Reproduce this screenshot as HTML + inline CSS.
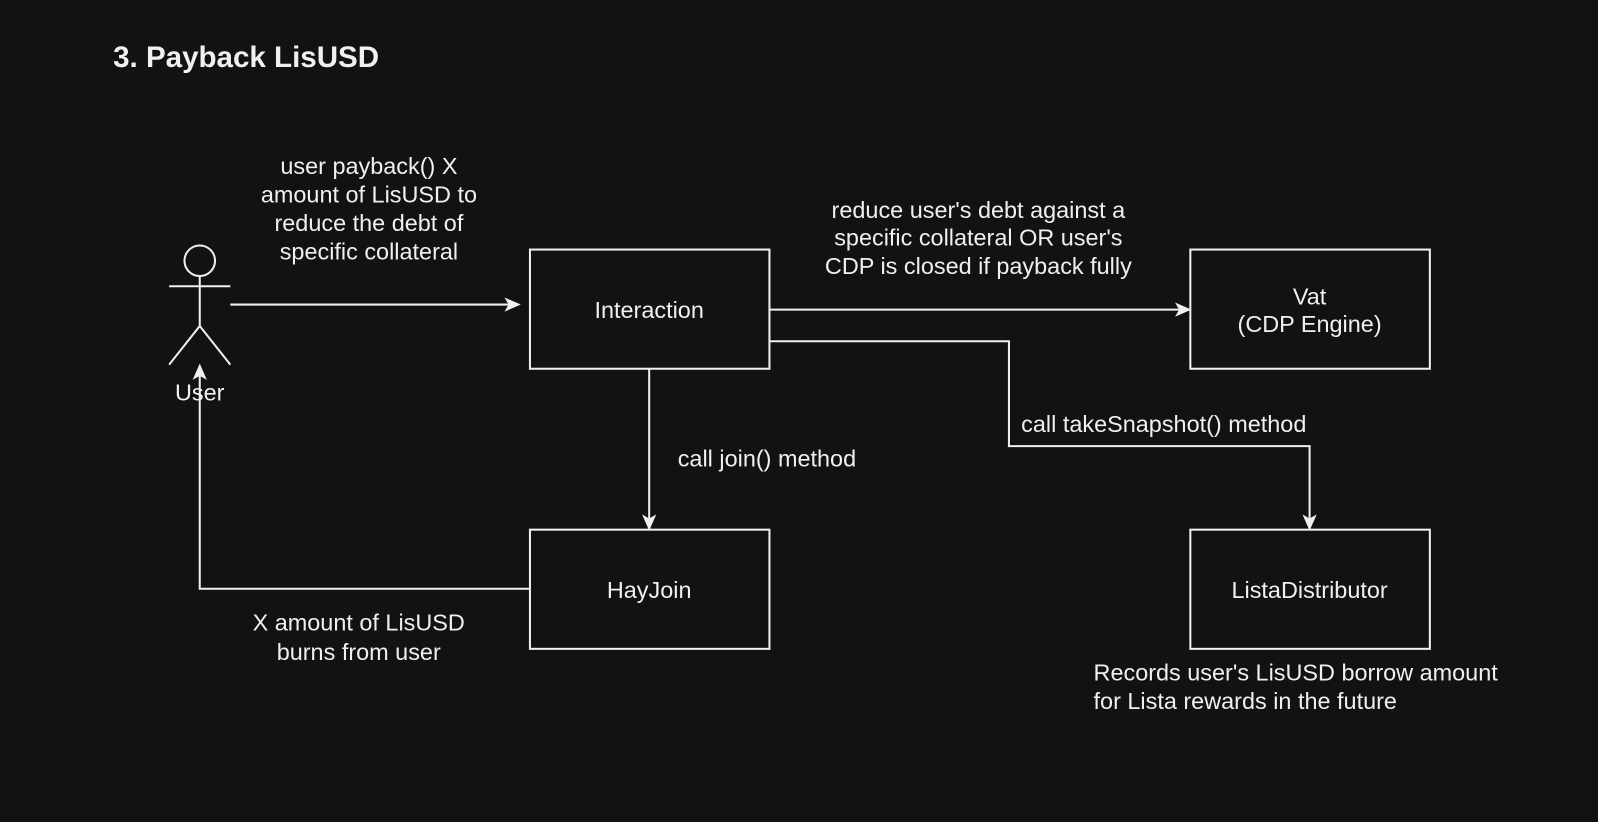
<!DOCTYPE html>
<html><head><meta charset="utf-8"><style>
html,body{margin:0;padding:0;background:#121212;width:1598px;height:822px;overflow:hidden}
svg{display:block}
text{font-family:"Liberation Sans",Arial,sans-serif;fill:#f0f0f0;font-size:23px}
</style></head><body>
<svg width="1598" height="822" viewBox="0 0 1568 807" preserveAspectRatio="none">
<rect width="1568" height="807" fill="#121212"/>
<defs><marker id="a" markerWidth="16" markerHeight="16" refX="14" refY="8" orient="auto" markerUnits="userSpaceOnUse"><path d="M0,1 L16,8 L0,15 L4,8 Z" fill="#f0f0f0"/></marker></defs>
<text x="111" y="66" style="font-size:29px;font-weight:bold">3. Payback LisUSD</text>
<g stroke="#f0f0f0" stroke-width="2" fill="none">
<circle cx="196" cy="256" r="15"/>
<line x1="196" y1="271" x2="196" y2="320"/>
<line x1="166" y1="281" x2="226" y2="281"/>
<line x1="196" y1="320" x2="166" y2="358"/>
<line x1="196" y1="320" x2="226" y2="358"/>
<rect x="520" y="245" width="235" height="117"/>
<rect x="1168" y="245" width="235" height="117"/>
<rect x="520" y="520" width="235" height="117"/>
<rect x="1168" y="520" width="235" height="117"/>
<line x1="226" y1="299" x2="509" y2="299" marker-end="url(#a)"/>
<line x1="755" y1="304" x2="1167" y2="304" marker-end="url(#a)"/>
<polyline points="755,335 990,335 990,438 1285,438 1285,519" marker-end="url(#a)"/>
<line x1="637" y1="362" x2="637" y2="519" marker-end="url(#a)"/>
<polyline points="520,578 196,578 196,359" marker-end="url(#a)"/>
</g>
<text x="196" y="393" text-anchor="middle">User</text>
<g text-anchor="middle">
<text x="362" y="171">user payback() X</text>
<text x="362" y="199">amount of LisUSD to</text>
<text x="362" y="227">reduce the debt of</text>
<text x="362" y="255">specific collateral</text>
<text x="960" y="214">reduce user's debt against a</text>
<text x="960" y="241">specific collateral OR user's</text>
<text x="960" y="269">CDP is closed if payback fully</text>
<text x="637" y="312">Interaction</text>
<text x="1285" y="299">Vat</text>
<text x="1285" y="326">(CDP Engine)</text>
<text x="637" y="587">HayJoin</text>
<text x="1285" y="587">ListaDistributor</text>
<text x="352" y="619">X amount of LisUSD</text>
<text x="352" y="648">burns from user</text>
</g>
<text x="1002" y="424">call takeSnapshot() method</text>
<text x="665" y="458">call join() method</text>
<text x="1073" y="668">Records user's LisUSD borrow amount</text>
<text x="1073" y="696">for Lista rewards in the future</text>
</svg>
</body></html>
